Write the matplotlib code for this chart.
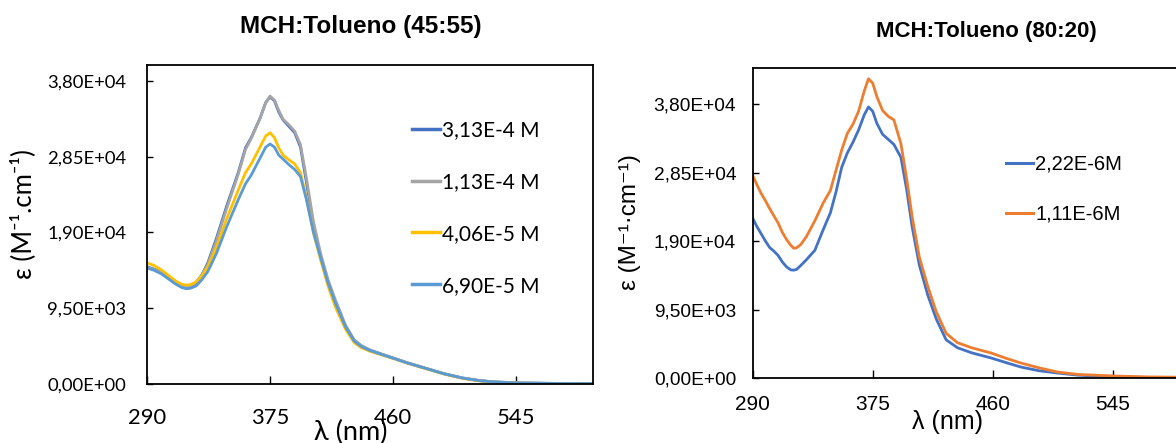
"""
UV-vis absorption spectra (molar absorptivity vs wavelength) in two
MCH:Toluene mixtures, drawn side by side as in the Excel original.
"""

import matplotlib
matplotlib.use("Agg")
import matplotlib.pyplot as plt
from matplotlib.ticker import FixedLocator

# ---- panel 1: MCH:Tolueno (45:55) ----
wl_a = [290, 295, 300, 305, 310, 314, 317, 320, 324, 328, 332, 338, 345, 353,
        358, 362, 368, 372, 375, 378, 381, 384, 388, 392, 396, 400, 405, 410,
        415, 420, 427, 433, 438, 444, 452, 460, 470, 482, 495, 508, 520, 530,
        548, 570, 598]
eps_313 = [14700, 14400, 14000, 13400, 12800, 12350, 12150, 12250, 12700, 13700,
           15200, 18300, 22300, 26500, 29600, 30900, 33300, 35300, 36000, 35500,
           34100, 33100, 32300, 31500, 29700, 25400, 19800, 15900, 12800, 10400,
           7300, 5500, 4800, 4250, 3750, 3260, 2650, 2000, 1300, 750,
           420, 260, 130, 80, 60]
eps_113 = [14650, 14350, 13950, 13350, 12750, 12350, 12200, 12300, 12800, 13700,
           15000, 18000, 22000, 26300, 29400, 30800, 33300, 35300, 36100, 35600,
           34300, 33200, 32500, 31700, 30000, 25900, 20300, 16300, 13100, 10600,
           7400, 5550, 4800, 4250, 3750, 3260, 2650, 2000, 1300, 750,
           420, 260, 130, 80, 60]
eps_406 = [15200, 14850, 14300, 13600, 12900, 12500, 12400, 12450, 12800, 13600,
           14700, 17200, 20700, 24300, 26500, 27600, 29700, 31100, 31500, 30900,
           29600, 28700, 28100, 27600, 26500, 23400, 18900, 15500, 12300, 9700,
           6900, 5200, 4550, 4100, 3650, 3200, 2600, 1950, 1250, 700,
           380, 230, 110, 60, 40]
eps_690 = [14550, 14250, 13800, 13150, 12500, 12100, 11950, 12000, 12300, 13100,
           14100, 16400, 19700, 23100, 25100, 26200, 28300, 29700, 30100, 29700,
           28700, 28200, 27500, 26900, 26000, 23200, 19000, 15800, 12700, 10200,
           7200, 5400, 4700, 4200, 3700, 3230, 2620, 1980, 1280, 740,
           410, 250, 120, 70, 50]
labels_a = ["3,13E-4 M", "1,13E-4 M", "4,06E-5 M", "6,90E-5 M"]
colors_a = ["#4472C4", "#A5A5A5", "#FFC000", "#5B9BD5"]

# ---- panel 2: MCH:Tolueno (80:20) ----
wl_b = [290, 293, 296, 299, 302, 305, 308, 311, 314, 317, 319, 321, 324, 328,
        334, 340, 345, 349, 353, 357, 361, 365, 369, 372, 375, 378, 382, 386,
        390, 395, 399, 403, 408, 414, 420, 427, 435, 445, 459, 470, 480, 493,
        506, 520, 546, 570, 598]
eps_222 = [22150, 21000, 20000, 19000, 18100, 17600, 17000, 16100, 15400, 15000,
           14960, 15050, 15600, 16400, 17700, 20600, 22900, 25800, 29200, 31200,
           32700, 34400, 36500, 37600, 37000, 35300, 33800, 33100, 32400, 30600,
           26200, 20900, 15700, 11500, 8200, 5300, 4200, 3500, 2770, 2100,
           1520, 1000, 690, 400, 140, 80, 50]
eps_111 = [28100, 26800, 25600, 24600, 23500, 22500, 21500, 20200, 19200, 18400,
           18000, 18050, 18500, 19600, 21800, 24300, 26000, 28800, 31600, 33900,
           35200, 37000, 39800, 41500, 40900, 39000, 37100, 36300, 35800, 32500,
           27700, 22300, 16800, 12700, 9200, 6200, 4900, 4200, 3460, 2700,
           2080, 1400, 830, 500, 280, 150, 100]
labels_b = ["2,22E-6M", "1,11E-6M"]
colors_b = ["#4472C4", "#ED7D31"]

yticks = [0, 9500, 19000, 28500, 38000]
ytick_labels = ["0,00E+00", "9,50E+03", "1,90E+04", "2,85E+04", "3,80E+04"]
xticks = [290, 375, 460, 545]

LEFT_FONT = ["Lato", "DejaVu Sans"]
RIGHT_FONT = ["Liberation Sans", "DejaVu Sans"]
W, H = 1176, 443


def style_axes(ax, font, ylim, ysize, xsize, xpad, ypad):
    ax.set_xlim(290, 598)
    ax.set_ylim(*ylim)
    ax.xaxis.set_major_locator(FixedLocator(xticks))
    ax.yaxis.set_major_locator(FixedLocator(yticks))
    ax.set_xticklabels([str(t) for t in xticks], family=font, fontsize=xsize)
    ax.set_yticklabels(ytick_labels, family=font, fontsize=ysize)
    ax.tick_params(axis="x", direction="in", length=5.5, width=1.0, pad=xpad)
    ax.tick_params(axis="y", direction="in", length=4, width=1.0, pad=ypad)
    for side in ["left", "right", "top", "bottom"]:
        ax.spines[side].set_linewidth(1.3)
        ax.spines[side].set_color("black")


fig = plt.figure(figsize=(W / 100, H / 100), dpi=100)

# left panel
ax1 = fig.add_axes([147 / W, (H - 384) / H, (593 - 147) / W, (384 - 65) / H])
for ys, lab, col in zip([eps_313, eps_113, eps_406, eps_690], labels_a, colors_a):
    ax1.plot(wl_a, ys, color=col, lw=2.0, label=lab)
style_axes(ax1, LEFT_FONT, (0, 40000), 13.3, 15.8, 17, 15)
fig.text(351 / W, 1 - 432 / H, "λ (nm)", family=LEFT_FONT, fontsize=19.5,
         ha="center", va="center")
fig.text(23 / W, 1 - 214 / H, "ε (M⁻¹.cm⁻¹)", family=LEFT_FONT, fontsize=18.5,
         rotation=90, ha="center", va="center")
leg1 = ax1.legend(loc="upper left", bbox_to_anchor=(412 / W, 1 - 120 / H),
                  bbox_transform=fig.transFigure, frameon=False,
                  prop={"family": LEFT_FONT, "size": 15}, handlelength=1.35,
                  handletextpad=0.1, labelspacing=1.53, borderpad=0, borderaxespad=0)
for line in leg1.get_lines():
    line.set_linewidth(2.5)
fig.text(361 / W, 1 - 27 / H, "MCH:Tolueno (45:55)", family=RIGHT_FONT,
         fontsize=17.5, fontweight="bold", ha="center", va="center")

# right panel (its right edge runs past the figure, as in the original)
ax2 = fig.add_axes([752.7 / W, (H - 378) / H, (308 * 120 / 85) / W, (378 - 68) / H])
for ys, lab, col in zip([eps_222, eps_111], labels_b, colors_b):
    ax2.plot(wl_b, ys, color=col, lw=2.0, label=lab)
style_axes(ax2, RIGHT_FONT, (0, 43000), 13.8, 15, 12, 12)
fig.text(947 / W, 1 - 422 / H, "λ (nm)", family=RIGHT_FONT, fontsize=18,
         ha="center", va="center")
fig.text(630 / W, 1 - 222 / H, "ε (M⁻¹·cm⁻¹)", family=RIGHT_FONT, fontsize=17.5,
         rotation=90, ha="center", va="center")
leg2 = ax2.legend(loc="upper left", bbox_to_anchor=(1006 / W, 1 - 155 / H),
                  bbox_transform=fig.transFigure, frameon=False,
                  prop={"family": RIGHT_FONT, "size": 14.5}, handlelength=1.35,
                  handletextpad=0.1, labelspacing=1.52, borderpad=0, borderaxespad=0)
for line in leg2.get_lines():
    line.set_linewidth(2.2)
fig.text(986 / W, 1 - 31 / H, "MCH:Tolueno (80:20)", family=RIGHT_FONT,
         fontsize=16, fontweight="bold", ha="center", va="center")

fig.savefig("out.png", dpi=100)
